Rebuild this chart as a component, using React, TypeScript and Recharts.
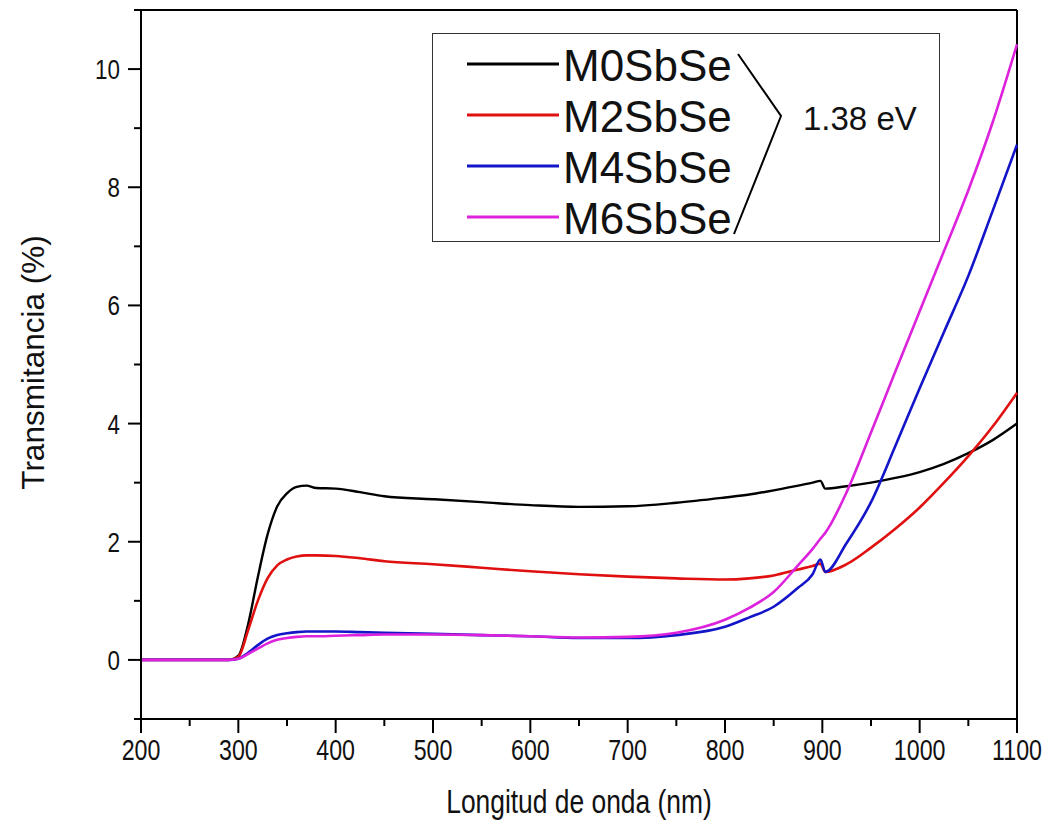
import { Line, LineChart, ReferenceLine, XAxis, YAxis } from "recharts";

// wavelength in nm
const wavelength = [
  200, 250, 290, 300, 310, 320, 330, 340, 350, 360, 370, 380, 400, 425, 450, 500, 550, 600, 650, 700,
  750, 800, 825, 850, 875, 890, 898, 903, 925, 950, 975, 1000, 1025, 1050, 1075, 1100,
];

// transmitance (%) for each sample
const m0SbSe = [
  0, 0, 0, 0.07, 0.6, 1.4, 2.12, 2.6, 2.82, 2.93, 2.95, 2.91, 2.9, 2.84, 2.77, 2.72, 2.67, 2.62, 2.59, 2.6,
  2.66, 2.75, 2.8, 2.87, 2.95, 3.0, 3.03, 2.9, 2.94, 3.0, 3.08, 3.18, 3.32, 3.5, 3.72, 4.0,
];
const m2SbSe = [
  0, 0, 0, 0.05, 0.5, 1.0, 1.38, 1.6, 1.7, 1.75, 1.77, 1.77, 1.76, 1.72, 1.67, 1.62, 1.56, 1.5, 1.45, 1.41,
  1.38, 1.36, 1.38, 1.43, 1.53, 1.59, 1.63, 1.49, 1.62, 1.9, 2.22, 2.58, 3.0, 3.45, 3.95, 4.52,
];
const m4SbSe = [
  0, 0, 0, 0.02, 0.12, 0.25, 0.36, 0.42, 0.45, 0.47, 0.48, 0.48, 0.48, 0.47, 0.46, 0.44, 0.42, 0.4, 0.37, 0.37,
  0.42, 0.56, 0.72, 0.9, 1.22, 1.45, 1.7, 1.49, 1.98, 2.67, 3.62, 4.6, 5.55, 6.5, 7.6, 8.72,
];
const m6SbSe = [
  0, 0, 0, 0.02, 0.1, 0.19, 0.28, 0.34, 0.37, 0.39, 0.4, 0.4, 0.41, 0.42, 0.43, 0.43, 0.42, 0.4, 0.38, 0.39,
  0.46, 0.68, 0.88, 1.15, 1.6, 1.88, 2.05, 2.15, 2.84, 3.85, 4.88, 5.9, 6.92, 7.95, 9.1, 10.42,
];

const xTicks = [200, 250, 300, 350, 400, 450, 500, 550, 600, 650, 700, 750, 800, 850, 900, 950, 1000, 1050, 1100];
const yTicks = [-1, 0, 1, 2, 3, 4, 5, 6, 7, 8, 9, 10, 11];

const series = [
  { key: "m0", name: "M0SbSe", color: "#000000", width: 2.4 },
  { key: "m2", name: "M2SbSe", color: "#e01010", width: 2.6 },
  { key: "m4", name: "M4SbSe", color: "#1414c8", width: 2.6 },
  { key: "m6", name: "M6SbSe", color: "#dd22dd", width: 2.6 },
];

const data = wavelength.map((wl, i) => ({
  wl,
  m0: m0SbSe[i],
  m2: m2SbSe[i],
  m4: m4SbSe[i],
  m6: m6SbSe[i],
}));

const sans = "Arial, 'Liberation Sans', sans-serif";

// the original export squeezes axis text horizontally
function NarrowText({ x, y, anchor = "middle", size, children }: any) {
  return (
    <text
      transform={`translate(${x} ${y}) scale(0.8 1)`}
      textAnchor={anchor}
      dominantBaseline="central"
      fontFamily={sans}
      fontSize={size}
      fill="#111"
    >
      {children}
    </text>
  );
}

function XTick({ x, y, payload }: any) {
  const major = payload.value % 100 === 0;
  return (
    <g>
      <line x1={x} x2={x} y1={y} y2={y + (major ? 14 : 7)} stroke="#000" strokeWidth={2} />
      {major && (
        <NarrowText x={x} y={y + 31} size={29}>
          {payload.value}
        </NarrowText>
      )}
    </g>
  );
}

function YTick({ x, y, payload }: any) {
  const major = payload.value % 2 === 0;
  return (
    <g>
      <line x1={x} x2={x - (major ? 13 : 7)} y1={y} y2={y} stroke="#000" strokeWidth={2} />
      {major && (
        <NarrowText x={x - 21} y={y} anchor="end" size={28}>
          {payload.value}
        </NarrowText>
      )}
    </g>
  );
}

function Legend() {
  return (
    <div
      style={{
        position: "absolute",
        left: 432,
        top: 33,
        width: 506,
        height: 207,
        border: "1px solid #333",
        background: "#fff",
      }}
    >
      <svg width={506} height={207}>
        {series.map((s, i) => (
          <g key={s.key}>
            <line x1={34} x2={126} y1={30 + i * 51} y2={30 + i * 51} stroke={s.color} strokeWidth={s.width + 0.6} />
            <text x={130} y={31 + i * 51} dominantBaseline="central" fontFamily={sans} fontSize={44} fill="#111">
              {s.name}
            </text>
          </g>
        ))}
        <polyline points="305,20 348,82 301,200" fill="none" stroke="#000" strokeWidth={2} />
        <text x={370} y={84} dominantBaseline="central" fontFamily={sans} fontSize={33} fill="#111">
          1.38 eV
        </text>
      </svg>
    </div>
  );
}

export default function App() {
  return (
    <div style={{ position: "absolute", left: 0, top: 0, width: 1054, height: 828, background: "#fff" }}>
      <LineChart width={1054} height={828} data={data} margin={{ top: 10, right: 37, left: 0, bottom: 0 }}>
        <XAxis
          dataKey="wl"
          type="number"
          domain={[200, 1100]}
          ticks={xTicks}
          interval={0}
          height={109}
          tickSize={0}
          tickMargin={0}
          tickLine={false}
          tick={XTick}
          axisLine={{ stroke: "#000", strokeWidth: 2 }}
          label={({ viewBox }: any) => (
            <NarrowText x={viewBox.x + viewBox.width / 2} y={viewBox.y + 82} size={33}>
              Longitud de onda (nm)
            </NarrowText>
          )}
        />
        <YAxis
          type="number"
          domain={[-1, 11]}
          ticks={yTicks}
          interval={0}
          width={141}
          tickSize={0}
          tickMargin={0}
          tickLine={false}
          tick={YTick}
          axisLine={{ stroke: "#000", strokeWidth: 2 }}
          label={({ viewBox }: any) => {
            const cx = 33;
            const cy = viewBox.y + viewBox.height / 2 - 2;
            return (
              <text
                x={cx}
                y={cy}
                transform={`rotate(-90 ${cx} ${cy})`}
                textAnchor="middle"
                dominantBaseline="central"
                fontFamily={sans}
                fontSize={31.5}
                fill="#111"
              >
                Transmitancia (%)
              </text>
            );
          }}
        />
        <ReferenceLine y={11} stroke="#000" strokeWidth={2} />
        <ReferenceLine x={1100} stroke="#000" strokeWidth={2} />
        {series.map((s) => (
          <Line
            key={s.key}
            dataKey={s.key}
            name={s.name}
            type="monotone"
            stroke={s.color}
            strokeWidth={s.width}
            dot={false}
            isAnimationActive={false}
          />
        ))}
      </LineChart>
      <Legend />
    </div>
  );
}
